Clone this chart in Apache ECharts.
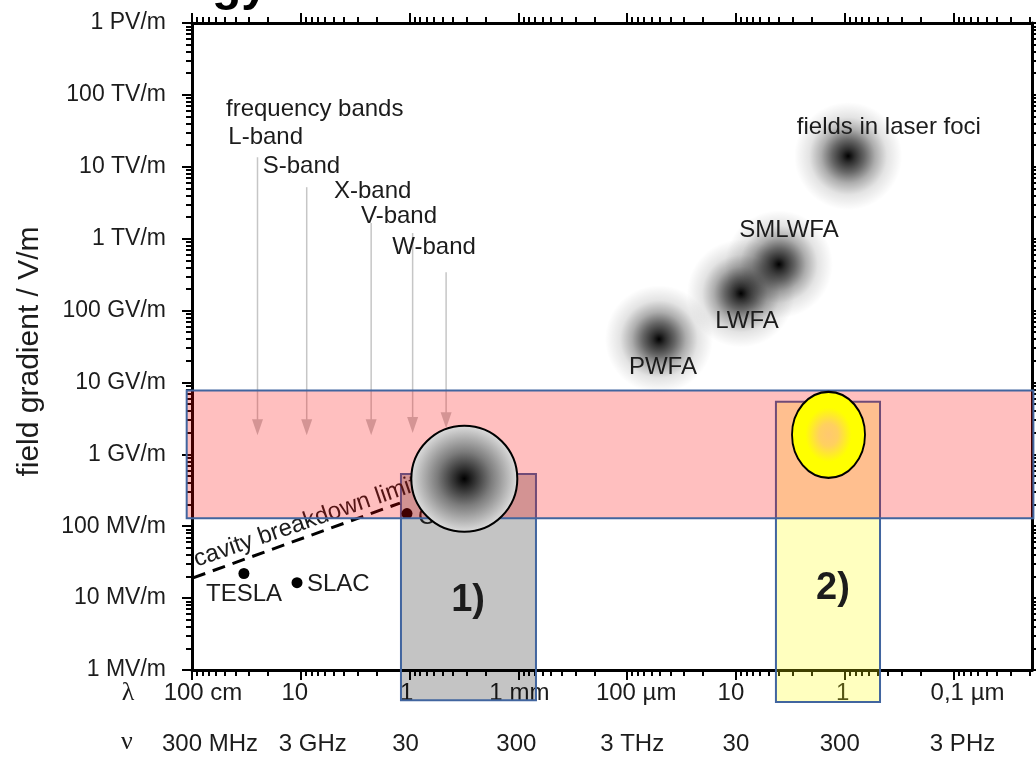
<!DOCTYPE html>
<html><head><meta charset="utf-8">
<script src="https://cdn.jsdelivr.net/npm/echarts@6/dist/echarts.min.js"></script>
<style>html,body{margin:0;padding:0;background:#fff}#c{width:1036px;height:758px}</style>
</head><body><div id="c"></div>
<script>
// ---------------- data ----------------
// x axis: wavelength in metres (decreasing to the right), y axis: field gradient in V/m
const LAMBDA_MAJOR = [1, 1e-1, 1e-2, 1e-3, 1e-4, 1e-5, 1e-6, 1e-7];
const LAMBDA_LABELS = ['100 cm', '10', '1', '1 mm', '100 µm', '10', '1', '0,1 µm'];
const FREQ_LABELS = ['300 MHz', '3 GHz', '30', '300', '3 THz', '30', '300', '3 PHz'];
const LAMBDA_MIN = 1.9e-8;
const FIELD_MAJOR = [1e6, 1e7, 1e8, 1e9, 1e10, 1e11, 1e12, 1e13, 1e14, 1e15];
const FIELD_LABELS = ['1 MV/m', '10 MV/m', '100 MV/m', '1 GV/m', '10 GV/m', '100 GV/m', '1 TV/m', '10 TV/m', '100 TV/m', '1 PV/m'];

// frequency bands (GHz) and their arrows (V/m)
const BANDS = ['L-band', 'S-band', 'X-band', 'V-band', 'W-band'];
const BAND_GHZ = [1.2, 3.4, 13.3, 32, 65];
const BAND_ARROW_FROM = [1.36e13, 5.2e12, 1.65e12, 1.2e12, 3.4e11];
const BAND_ARROW_TO = [1.85e9, 1.85e9, 1.85e9, 1.98e9, 2.3e9];
const BAND_LABEL_LAMBDA = [0.487, 0.4638, 0.2240, 0.04954, 0.02796, 0.01442];
const BAND_LABEL_FIELD = [6.34e13, 2.59e13, 1.02e13, 4.52e12, 2.06e12, 7.64e11];

// conventional accelerators
const ACCEL = ['TESLA', 'SLAC', 'CLIC'];
const ACCEL_GHZ = [0.9, 2.77, 28.4];
const ACCEL_FIELD = [22e6, 16.4e6, 150e6];

// cavity breakdown limit (dashed)
const BREAKDOWN_LAMBDA = [0.979, 0.01226];
const BREAKDOWN_FIELD = [1.91e7, 2.10e8];

// plasma / laser schemes (blurred spots)
const SPOTS = ['PWFA', 'LWFA', 'SMLWFA', 'fields in laser foci'];
const SPOT_LAMBDA = [5.1e-5, 9.0e-6, 4.03e-6, 9.3e-7];
const SPOT_FIELD = [4.0e10, 1.73e11, 4.4e11, 1.41e13];

// regions: [lambda1, lambda2, field1, field2]
const REGION_1 = [0.0120, 6.89e-4, 3.8e5, 5.32e8];
const REGION_2 = [4.29e-6, 4.74e-7, 3.6e5, 5.4e9];
const BAND_RF = [1.119, 1.845e-8, 1.29e8, 7.7e9];

// highlighted targets
const TARGET_1 = [3.14e-3, 4.58e8];
const TARGET_2 = [1.41e-6, 1.87e9];

// annotation text anchors [lambda, field]
const CENTER_TEXTS = ['PWFA', 'LWFA', 'SMLWFA', 'fields in laser foci', 'TESLA'];
const CENTER_LAMBDA = [4.69e-5, 7.92e-6, 3.26e-6, 3.93e-7, 0.3327];
const CENTER_FIELD = [1.64e10, 7.14e10, 1.32e12, 3.51e13, 1.14e7];
const LEFT_TEXTS = ['SLAC', 'CLIC'];
const LEFT_LAMBDA = [0.0877, 8.37e-3];
const LEFT_FIELD = [1.57e7, 1.34e8];
const BREAKDOWN_TEXT = 'cavity breakdown limit';
const BREAKDOWN_TEXT_AT = [0.0906, 1.14e8];
const REGION_TEXTS = ['1)', '2)'];
const REGION_TEXT_LAMBDA = [2.90e-3, 1.285e-6];
const REGION_TEXT_FIELD = [9.12e6, 1.34e7];

// ---------------- helpers ----------------
const X = lam => -Math.log10(lam);
const Y = e => Math.log10(e);
const lamFromGHz = g => 0.3 / g;
const FONT = '"Liberation Sans", Arial, sans-serif';
const TXT = '#1c1c1c';
const BLUE = '#41659f';

const xMax = X(LAMBDA_MIN);
const majorX = LAMBDA_MAJOR.map(X);
const minorX = [];
LAMBDA_MAJOR.forEach(l => { for (let j = 9; j >= 2; j--) { const v = X(l * j / 10); if (v <= xMax + 1e-9) minorX.push(v); } });
const majorY = FIELD_MAJOR.map(Y);
const minorY = [];
FIELD_MAJOR.slice(0, -1).forEach(e => { for (let j = 2; j <= 9; j++) minorY.push(Y(e * j)); });

const lamOffset = [11, -6, -3, 1, 9, -5, -2, 14];
const nuOffset = [18, 12, -4, -2, 5, 0, -5, 9];
function richFor(offsets, prefix) {
  const r = {};
  offsets.forEach((d, i) => {
    r[prefix + i] = { fontSize: 24, fontFamily: FONT, color: TXT,
      padding: d >= 0 ? [0, 0, 0, 2 * d] : [0, -2 * d, 0, 0] };
  });
  return r;
}
const idxOf = v => majorX.findIndex(m => Math.abs(m - v) < 1e-6);

const line = { show: true, onZero: false, lineStyle: { color: '#000', width: 3 } };
const noLine = { show: false, onZero: false };
function xAx(position, opts) {
  return Object.assign({ type: 'value', position, min: 0, max: xMax, splitLine: { show: false },
    axisLine: noLine, axisTick: { show: false }, axisLabel: { show: false } }, opts);
}
function yAx(position, opts) {
  return Object.assign({ type: 'value', position, min: 6, max: 15, splitLine: { show: false },
    axisLine: noLine, axisTick: { show: false }, axisLabel: { show: false } }, opts);
}
const majTick = (vals, len) => ({ show: true, inside: false, length: len, customValues: vals, lineStyle: { color: '#000', width: 2 } });

function rectSeries(r, fill, z) {
  return { type: 'custom', coordinateSystem: 'cartesian2d', clip: false, z, silent: true,
    data: [[X(r[0]), X(r[1]), Y(r[2]), Y(r[3])]],
    encode: { x: [0, 1], y: [2, 3] },
    renderItem: (p, api) => {
      const a = api.coord([api.value(0), api.value(2)]);
      const b = api.coord([api.value(1), api.value(3)]);
      return { type: 'rect', shape: { x: Math.min(a[0], b[0]), y: Math.min(a[1], b[1]),
        width: Math.abs(b[0] - a[0]), height: Math.abs(b[1] - a[1]) },
        style: { fill, stroke: BLUE, lineWidth: 2 } };
    } };
}
function textSeries(texts, lams, fields, font, align, z, rotDeg) {
  return { type: 'custom', coordinateSystem: 'cartesian2d', clip: false, z, silent: true,
    data: texts.map((t, i) => [X(lams[i]), Y(fields[i])]),
    renderItem: (p, api) => {
      const pt = api.coord([api.value(0), api.value(1)]);
      return { type: 'text', x: pt[0], y: pt[1], rotation: (rotDeg || 0) * Math.PI / 180,
        style: { text: texts[p.dataIndex], font, fill: TXT, align, verticalAlign: 'middle' } };
    } };
}

const spotColor = { type: 'radial', x: 0.5, y: 0.5, r: 0.5, colorStops: [
  { offset: 0, color: 'rgba(0,0,0,1)' }, { offset: 0.12, color: 'rgba(0,0,0,0.82)' },
  { offset: 0.3, color: 'rgba(0,0,0,0.6)' }, { offset: 0.5, color: 'rgba(0,0,0,0.32)' },
  { offset: 0.72, color: 'rgba(0,0,0,0.11)' }, { offset: 1, color: 'rgba(0,0,0,0)' }] };

const chart = echarts.init(document.getElementById('c'), null, { renderer: 'canvas' });
chart.setOption({
  animation: false,
  backgroundColor: '#fff',
  grid: { left: 192, right: 4, top: 23, bottom: 88, outerBoundsMode: 'none', containLabel: false },
  xAxis: [
    xAx('bottom', { axisLine: line, axisTick: majTick(majorX, 10),
      axisLabel: { show: true, customValues: majorX, margin: 11, fontSize: 24, fontFamily: FONT, color: TXT,
        formatter: v => { const i = idxOf(v); return '{l' + i + '|' + LAMBDA_LABELS[i] + '}'; }, rich: richFor(lamOffset, 'l') } }),
    xAx('bottom', { axisTick: majTick(minorX, 6) }),
    xAx('bottom', { axisLabel: { show: true, customValues: majorX, margin: 62, fontSize: 24, fontFamily: FONT, color: TXT,
        formatter: v => { const i = idxOf(v); return '{n' + i + '|' + FREQ_LABELS[i] + '}'; }, rich: richFor(nuOffset, 'n') } }),
    xAx('top', { axisLine: line, axisTick: majTick(majorX, 10) }),
    xAx('top', { axisTick: majTick(minorX, 6) })
  ],
  yAxis: [
    yAx('left', { axisLine: line, axisTick: majTick(majorY, 10),
      name: 'field gradient / V/m', nameLocation: 'middle', nameGap: 147, nameRotate: 90,
      nameTextStyle: { fontSize: 30, fontFamily: FONT, color: TXT, padding: [0, 10, 0, 0] },
      axisLabel: { show: true, customValues: majorY, margin: 26, fontSize: 23, fontFamily: FONT, color: TXT,
        formatter: v => FIELD_LABELS[Math.round(v) - 6] } }),
    yAx('left', { axisTick: majTick(minorY, 6) }),
    yAx('right', { axisLine: line, axisTick: majTick(majorY, 10) }),
    yAx('right', { axisTick: majTick(minorY, 6) })
  ],
  graphic: [
    { type: 'text', x: 128, y: 693, style: { text: 'λ', font: '26px "Liberation Serif", serif', fill: TXT, align: 'center', verticalAlign: 'middle' } },
    { type: 'text', x: 127, y: 742, style: { text: 'ν', font: '26px "Liberation Serif", serif', fill: TXT, align: 'center', verticalAlign: 'middle' } },
    { type: 'text', x: 212, y: -13, style: { text: 'gy', font: 'bold 48px ' + FONT, fill: '#000', align: 'left', verticalAlign: 'middle' } }
  ],
  series: [
    rectSeries(REGION_1, 'rgba(0,0,0,0.23)', 2),
    rectSeries(REGION_2, 'rgba(255,255,0,0.25)', 2),
    { type: 'scatter', z: 2, silent: true, symbol: 'circle', symbolSize: 108,
      data: SPOTS.map((s, i) => [X(SPOT_LAMBDA[i]), Y(SPOT_FIELD[i])]),
      itemStyle: { color: spotColor, opacity: 1 } },
    { type: 'custom', coordinateSystem: 'cartesian2d', clip: false, z: 3, silent: true,
      data: BANDS.map((b, i) => [X(lamFromGHz(BAND_GHZ[i])), Y(BAND_ARROW_FROM[i]), Y(BAND_ARROW_TO[i])]),
      renderItem: (p, api) => {
        const top = api.coord([api.value(0), api.value(1)]);
        const tip = api.coord([api.value(0), api.value(2)]);
        const hl = 16, hw = 5.5, c = '#c6c6c6';
        return { type: 'group', children: [
          { type: 'line', shape: { x1: top[0], y1: top[1], x2: tip[0], y2: tip[1] - hl + 1 }, style: { stroke: c, lineWidth: 1.5 } },
          { type: 'polygon', shape: { points: [[tip[0] - hw, tip[1] - hl], [tip[0] + hw, tip[1] - hl], [tip[0], tip[1]]] }, style: { fill: c } }
        ] };
      } },
    { type: 'line', z: 3, silent: true, showSymbol: false, symbol: 'none',
      data: BREAKDOWN_LAMBDA.map((l, i) => [X(l), Y(BREAKDOWN_FIELD[i])]),
      lineStyle: { color: '#000', width: 3, type: [13, 8] } },
    { type: 'scatter', z: 3, silent: true, symbolSize: 11,
      data: ACCEL.map((a, i) => [X(lamFromGHz(ACCEL_GHZ[i])), Y(ACCEL_FIELD[i])]),
      itemStyle: { color: '#000', opacity: 1 } },
    textSeries(['frequency bands'].concat(BANDS), BAND_LABEL_LAMBDA, BAND_LABEL_FIELD, '24px ' + FONT, 'left', 3),
    textSeries(CENTER_TEXTS, CENTER_LAMBDA, CENTER_FIELD, '24px ' + FONT, 'center', 3),
    textSeries(LEFT_TEXTS, LEFT_LAMBDA, LEFT_FIELD, '24px ' + FONT, 'left', 3),
    textSeries([BREAKDOWN_TEXT], [BREAKDOWN_TEXT_AT[0]], [BREAKDOWN_TEXT_AT[1]], '24px ' + FONT, 'center', 3, 19.1),
    textSeries(REGION_TEXTS, REGION_TEXT_LAMBDA, REGION_TEXT_FIELD, 'bold 38px ' + FONT, 'center', 3),
    rectSeries(BAND_RF, 'rgba(255,0,0,0.25)', 4),
    { type: 'scatter', z: 5, silent: true, symbol: 'circle', symbolSize: 106,
      data: [[X(TARGET_1[0]), Y(TARGET_1[1])]],
      itemStyle: { opacity: 1, borderColor: '#000', borderWidth: 2,
        color: { type: 'radial', x: 0.5, y: 0.5, r: 0.5, colorStops: [
          { offset: 0, color: '#000' }, { offset: 0.15, color: '#262626' }, { offset: 0.5, color: '#7c7c7c' }, { offset: 1, color: '#e0e0e0' }] } } },
    { type: 'scatter', z: 5, silent: true, symbol: 'circle', symbolSize: [73, 86],
      data: [[X(TARGET_2[0]), Y(TARGET_2[1])]],
      itemStyle: { opacity: 1, borderColor: '#000', borderWidth: 2,
        color: { type: 'radial', x: 0.5, y: 0.5, r: 0.5, colorStops: [
          { offset: 0, color: '#ffc870' }, { offset: 0.25, color: '#ffd060' }, { offset: 0.62, color: '#ffff00' }, { offset: 1, color: '#ffff00' }] } } }
  ]
});
</script></body></html>
